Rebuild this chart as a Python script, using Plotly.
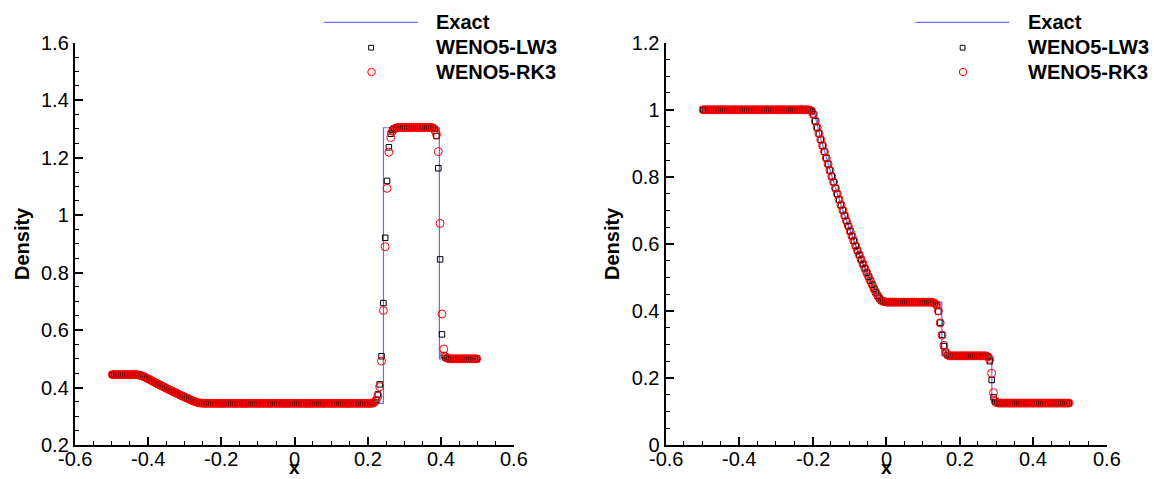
import plotly.graph_objects as go

W, H = 1154, 479

# ---------------- data ----------------
# cell centres (200 cells on [-0.5, 0.5])
x_cells = [
    -0.4975, -0.4925, -0.4875, -0.4825, -0.4775, -0.4725, -0.4675, -0.4625, -0.4575, -0.4525,
    -0.4475, -0.4425, -0.4375, -0.4325, -0.4275, -0.4225, -0.4175, -0.4125, -0.4075, -0.4025,
    -0.3975, -0.3925, -0.3875, -0.3825, -0.3775, -0.3725, -0.3675, -0.3625, -0.3575, -0.3525,
    -0.3475, -0.3425, -0.3375, -0.3325, -0.3275, -0.3225, -0.3175, -0.3125, -0.3075, -0.3025,
    -0.2975, -0.2925, -0.2875, -0.2825, -0.2775, -0.2725, -0.2675, -0.2625, -0.2575, -0.2525,
    -0.2475, -0.2425, -0.2375, -0.2325, -0.2275, -0.2225, -0.2175, -0.2125, -0.2075, -0.2025,
    -0.1975, -0.1925, -0.1875, -0.1825, -0.1775, -0.1725, -0.1675, -0.1625, -0.1575, -0.1525,
    -0.1475, -0.1425, -0.1375, -0.1325, -0.1275, -0.1225, -0.1175, -0.1125, -0.1075, -0.1025,
    -0.0975, -0.0925, -0.0875, -0.0825, -0.0775, -0.0725, -0.0675, -0.0625, -0.0575, -0.0525,
    -0.0475, -0.0425, -0.0375, -0.0325, -0.0275, -0.0225, -0.0175, -0.0125, -0.0075, -0.0025,
    0.0025, 0.0075, 0.0125, 0.0175, 0.0225, 0.0275, 0.0325, 0.0375, 0.0425, 0.0475,
    0.0525, 0.0575, 0.0625, 0.0675, 0.0725, 0.0775, 0.0825, 0.0875, 0.0925, 0.0975,
    0.1025, 0.1075, 0.1125, 0.1175, 0.1225, 0.1275, 0.1325, 0.1375, 0.1425, 0.1475,
    0.1525, 0.1575, 0.1625, 0.1675, 0.1725, 0.1775, 0.1825, 0.1875, 0.1925, 0.1975,
    0.2025, 0.2075, 0.2125, 0.2175, 0.2225, 0.2275, 0.2325, 0.2375, 0.2425, 0.2475,
    0.2525, 0.2575, 0.2625, 0.2675, 0.2725, 0.2775, 0.2825, 0.2875, 0.2925, 0.2975,
    0.3025, 0.3075, 0.3125, 0.3175, 0.3225, 0.3275, 0.3325, 0.3375, 0.3425, 0.3475,
    0.3525, 0.3575, 0.3625, 0.3675, 0.3725, 0.3775, 0.3825, 0.3875, 0.3925, 0.3975,
    0.4025, 0.4075, 0.4125, 0.4175, 0.4225, 0.4275, 0.4325, 0.4375, 0.4425, 0.4475,
    0.4525, 0.4575, 0.4625, 0.4675, 0.4725, 0.4775, 0.4825, 0.4875, 0.4925, 0.4975,
]

# ---- left panel (Lax problem) ----
lax_exact_x = [-0.5, -0.421, -0.38, -0.34, -0.30, -0.2605, 0.2427, 0.2427, 0.3955, 0.3955, 0.5]
lax_exact_rho = [0.445, 0.445, 0.4168, 0.3911, 0.3666, 0.345, 0.345, 1.304, 1.304, 0.5, 0.5]

lax_lw3 = [
    0.445, 0.445, 0.445, 0.445, 0.445, 0.445, 0.445, 0.445, 0.445, 0.445,
    0.445, 0.445, 0.445, 0.4448, 0.4442, 0.4428, 0.4408, 0.4382, 0.4352, 0.4320,
    0.4286, 0.4252, 0.4218, 0.4185, 0.4152, 0.4119, 0.4087, 0.4054, 0.4022, 0.3990,
    0.3958, 0.3927, 0.3895, 0.3864, 0.3833, 0.3803, 0.3772, 0.3742, 0.3711, 0.3681,
    0.3652, 0.3622, 0.3593, 0.3565, 0.3538, 0.3513, 0.3490, 0.3472, 0.3460, 0.3454,
    0.3451, 0.345, 0.345, 0.345, 0.345, 0.345, 0.345, 0.345, 0.345, 0.345,
    0.345, 0.345, 0.345, 0.345, 0.345, 0.345, 0.345, 0.345, 0.345, 0.345,
    0.345, 0.345, 0.345, 0.345, 0.345, 0.345, 0.345, 0.345, 0.345, 0.345,
    0.345, 0.345, 0.345, 0.345, 0.345, 0.345, 0.345, 0.345, 0.345, 0.345,
    0.345, 0.345, 0.345, 0.345, 0.345, 0.345, 0.345, 0.345, 0.345, 0.345,
    0.345, 0.345, 0.345, 0.345, 0.345, 0.345, 0.345, 0.345, 0.345, 0.345,
    0.345, 0.345, 0.345, 0.345, 0.345, 0.345, 0.345, 0.345, 0.345, 0.345,
    0.345, 0.345, 0.345, 0.345, 0.345, 0.345, 0.345, 0.345, 0.345, 0.345,
    0.345, 0.345, 0.345, 0.345, 0.345, 0.345, 0.345, 0.345, 0.345, 0.345,
    0.345, 0.345, 0.3452, 0.349, 0.357, 0.376, 0.411, 0.509, 0.694, 0.921,
    1.119, 1.236, 1.283, 1.297, 1.302, 1.304, 1.305, 1.305, 1.305, 1.305,
    1.305, 1.305, 1.305, 1.305, 1.305, 1.305, 1.305, 1.305, 1.305, 1.305,
    1.305, 1.305, 1.305, 1.305, 1.305, 1.304, 1.300, 1.275, 1.163, 0.846,
    0.585, 0.513, 0.503, 0.501, 0.500, 0.500, 0.500, 0.500, 0.500, 0.500,
    0.500, 0.500, 0.500, 0.500, 0.500, 0.500, 0.500, 0.500, 0.500, 0.500,
]

lax_rk3 = [
    0.445, 0.445, 0.445, 0.445, 0.445, 0.445, 0.445, 0.445, 0.445, 0.445,
    0.445, 0.445, 0.445, 0.4448, 0.4442, 0.4428, 0.4408, 0.4382, 0.4352, 0.4320,
    0.4286, 0.4252, 0.4218, 0.4185, 0.4152, 0.4119, 0.4087, 0.4054, 0.4022, 0.3990,
    0.3958, 0.3927, 0.3895, 0.3864, 0.3833, 0.3803, 0.3772, 0.3742, 0.3711, 0.3681,
    0.3652, 0.3622, 0.3593, 0.3565, 0.3538, 0.3513, 0.3490, 0.3472, 0.3460, 0.3454,
    0.3451, 0.345, 0.345, 0.345, 0.345, 0.345, 0.345, 0.345, 0.345, 0.345,
    0.345, 0.345, 0.345, 0.345, 0.345, 0.345, 0.345, 0.345, 0.345, 0.345,
    0.345, 0.345, 0.345, 0.345, 0.345, 0.345, 0.345, 0.345, 0.345, 0.345,
    0.345, 0.345, 0.345, 0.345, 0.345, 0.345, 0.345, 0.345, 0.345, 0.345,
    0.345, 0.345, 0.345, 0.345, 0.345, 0.345, 0.345, 0.345, 0.345, 0.345,
    0.345, 0.345, 0.345, 0.345, 0.345, 0.345, 0.345, 0.345, 0.345, 0.345,
    0.345, 0.345, 0.345, 0.345, 0.345, 0.345, 0.345, 0.345, 0.345, 0.345,
    0.345, 0.345, 0.345, 0.345, 0.345, 0.345, 0.345, 0.345, 0.345, 0.345,
    0.345, 0.345, 0.345, 0.345, 0.345, 0.345, 0.345, 0.345, 0.345, 0.345,
    0.345, 0.345, 0.3451, 0.348, 0.355, 0.370, 0.403, 0.492, 0.668, 0.890,
    1.093, 1.219, 1.270, 1.292, 1.300, 1.303, 1.305, 1.305, 1.305, 1.305,
    1.305, 1.305, 1.305, 1.305, 1.305, 1.305, 1.305, 1.305, 1.305, 1.305,
    1.305, 1.305, 1.305, 1.305, 1.305, 1.304, 1.296, 1.280, 1.221, 0.971,
    0.656, 0.534, 0.507, 0.502, 0.500, 0.500, 0.500, 0.500, 0.500, 0.500,
    0.500, 0.500, 0.500, 0.500, 0.500, 0.500, 0.500, 0.500, 0.500, 0.500,
]

# ---- right panel (Sod problem) ----
sod_exact_x = [-0.5, -0.197, -0.1775, -0.1575, -0.1375, -0.1175, -0.0975, -0.0775,
               -0.0575, -0.0375, -0.0175, -0.0146, 0.152, 0.152, 0.288, 0.288, 0.5]
sod_exact_rho = [1.0, 1.0, 0.914, 0.838, 0.766, 0.700, 0.638, 0.580,
                 0.527, 0.478, 0.432, 0.426, 0.426, 0.2656, 0.2656, 0.125, 0.125]

sod_lw3 = [
    1.0, 1.0, 1.0, 1.0, 1.0, 1.0, 1.0, 1.0, 1.0, 1.0,
    1.0, 1.0, 1.0, 1.0, 1.0, 1.0, 1.0, 1.0, 1.0, 1.0,
    1.0, 1.0, 1.0, 1.0, 1.0, 1.0, 1.0, 1.0, 1.0, 1.0,
    1.0, 1.0, 1.0, 1.0, 1.0, 1.0, 1.0, 1.0, 1.0, 1.0,
    1.0, 1.0, 1.0, 1.0, 1.0, 1.0, 1.0, 1.0, 1.0, 1.0,
    1.0, 1.0, 1.0, 1.0, 1.0, 1.0, 1.0, 1.0, 0.999, 0.996,
    0.986, 0.966, 0.947, 0.929, 0.911, 0.893, 0.875, 0.856, 0.838, 0.819,
    0.801, 0.784, 0.766, 0.749, 0.732, 0.716, 0.700, 0.684, 0.668, 0.653,
    0.638, 0.623, 0.609, 0.594, 0.580, 0.567, 0.553, 0.540, 0.527, 0.514,
    0.502, 0.490, 0.478, 0.466, 0.455, 0.445, 0.437, 0.431, 0.428, 0.427,
    0.426, 0.426, 0.426, 0.426, 0.426, 0.426, 0.426, 0.426, 0.426, 0.426,
    0.426, 0.426, 0.426, 0.426, 0.426, 0.426, 0.426, 0.426, 0.426, 0.426,
    0.426, 0.426, 0.426, 0.426, 0.426, 0.425, 0.423, 0.417, 0.398, 0.365,
    0.328, 0.295, 0.275, 0.268, 0.266, 0.266, 0.266, 0.266, 0.266, 0.266,
    0.266, 0.266, 0.266, 0.266, 0.266, 0.266, 0.266, 0.266, 0.266, 0.266,
    0.266, 0.266, 0.266, 0.266, 0.266, 0.263, 0.250, 0.194, 0.142, 0.128,
    0.126, 0.125, 0.125, 0.125, 0.125, 0.125, 0.125, 0.125, 0.125, 0.125,
    0.125, 0.125, 0.125, 0.125, 0.125, 0.125, 0.125, 0.125, 0.125, 0.125,
    0.125, 0.125, 0.125, 0.125, 0.125, 0.125, 0.125, 0.125, 0.125, 0.125,
    0.125, 0.125, 0.125, 0.125, 0.125, 0.125, 0.125, 0.125, 0.125, 0.125,
]

sod_rk3 = [
    1.0, 1.0, 1.0, 1.0, 1.0, 1.0, 1.0, 1.0, 1.0, 1.0,
    1.0, 1.0, 1.0, 1.0, 1.0, 1.0, 1.0, 1.0, 1.0, 1.0,
    1.0, 1.0, 1.0, 1.0, 1.0, 1.0, 1.0, 1.0, 1.0, 1.0,
    1.0, 1.0, 1.0, 1.0, 1.0, 1.0, 1.0, 1.0, 1.0, 1.0,
    1.0, 1.0, 1.0, 1.0, 1.0, 1.0, 1.0, 1.0, 1.0, 1.0,
    1.0, 1.0, 1.0, 1.0, 1.0, 1.0, 1.0, 1.0, 0.999, 0.996,
    0.986, 0.966, 0.947, 0.929, 0.911, 0.893, 0.875, 0.856, 0.838, 0.819,
    0.801, 0.784, 0.766, 0.749, 0.732, 0.716, 0.700, 0.684, 0.668, 0.653,
    0.638, 0.623, 0.609, 0.594, 0.580, 0.567, 0.553, 0.540, 0.527, 0.514,
    0.502, 0.490, 0.478, 0.466, 0.455, 0.445, 0.437, 0.431, 0.428, 0.427,
    0.426, 0.426, 0.426, 0.426, 0.426, 0.426, 0.426, 0.426, 0.426, 0.426,
    0.426, 0.426, 0.426, 0.426, 0.426, 0.426, 0.426, 0.426, 0.426, 0.426,
    0.426, 0.426, 0.426, 0.426, 0.426, 0.425, 0.423, 0.418, 0.400, 0.364,
    0.328, 0.297, 0.277, 0.269, 0.266, 0.266, 0.266, 0.266, 0.266, 0.266,
    0.266, 0.266, 0.266, 0.266, 0.266, 0.266, 0.266, 0.266, 0.266, 0.266,
    0.266, 0.266, 0.266, 0.266, 0.266, 0.263, 0.256, 0.214, 0.156, 0.131,
    0.126, 0.125, 0.125, 0.125, 0.125, 0.125, 0.125, 0.125, 0.125, 0.125,
    0.125, 0.125, 0.125, 0.125, 0.125, 0.125, 0.125, 0.125, 0.125, 0.125,
    0.125, 0.125, 0.125, 0.125, 0.125, 0.125, 0.125, 0.125, 0.125, 0.125,
    0.125, 0.125, 0.125, 0.125, 0.125, 0.125, 0.125, 0.125, 0.125, 0.125,
]

series_names = ["Exact", "WENO5-LW3", "WENO5-RK3"]
x_ticks = [-0.6, -0.4, -0.2, 0.0, 0.2, 0.4, 0.6]
x_ticktext = ["-0.6", "-0.4", "-0.2", "0", "0.2", "0.4", "0.6"]
y1_ticks = [0.2, 0.4, 0.6, 0.8, 1.0, 1.2, 1.4, 1.6]
y1_ticktext = ["0.2", "0.4", "0.6", "0.8", "1", "1.2", "1.4", "1.6"]
y2_ticks = [0.0, 0.2, 0.4, 0.6, 0.8, 1.0, 1.2]
y2_ticktext = ["0", "0.2", "0.4", "0.6", "0.8", "1", "1.2"]

# ---------------- style ----------------
FONT = "Liberation Sans, Arial, sans-serif"
BLUE = "#6b6bff"
RED = "#ff0000"


def px(x):
    return x / W


def py(y):
    return 1 - y / H


fig = go.Figure()

panels = [
    ("x", "y", lax_exact_x, lax_exact_rho, lax_lw3, lax_rk3),
    ("x2", "y2", sod_exact_x, sod_exact_rho, sod_lw3, sod_rk3),
]
for xa, ya, ex, ey, lw3, rk3 in panels:
    fig.add_trace(go.Scatter(x=ex, y=ey, mode="lines", name=series_names[0],
                             line=dict(color=BLUE, width=1.2), xaxis=xa, yaxis=ya,
                             showlegend=False, hoverinfo="skip"))
    fig.add_trace(go.Scatter(x=x_cells, y=lw3, mode="markers", name=series_names[1],
                             marker=dict(symbol="square-open", size=5.5, color="black",
                                         line=dict(width=1, color="black")),
                             xaxis=xa, yaxis=ya, showlegend=False, hoverinfo="skip"))
    fig.add_trace(go.Scatter(x=x_cells, y=rk3, mode="markers", name=series_names[2],
                             marker=dict(symbol="circle-open", size=8, color=RED,
                                         line=dict(width=1, color=RED)),
                             xaxis=xa, yaxis=ya, showlegend=False, hoverinfo="skip"))

minor = dict(ticks="inside", ticklen=4, tickwidth=1, tickcolor="black",
             tickmode="linear", tick0=0, dtick=0.05, showgrid=False)
common = dict(showline=True, linecolor="black", linewidth=2, ticks="inside",
              ticklen=8, tickwidth=2, tickcolor="black", showgrid=False,
              zeroline=False, mirror=False, automargin=False,
              tickfont=dict(family=FONT, size=20, color="black"),
              minor=minor)

ydom = [py(445), py(42.7)]
fig.update_layout(
    template="none",
    autosize=False,
    width=W, height=H, margin=dict(l=0, r=0, t=0, b=0, pad=0),
    paper_bgcolor="white", plot_bgcolor="white", showlegend=False,
    hovermode=False,
    xaxis=dict(domain=[px(74.8), px(514.3)], range=[-0.6, 0.6], anchor="y",
               tickmode="array", tickvals=x_ticks, showticklabels=False, **common),
    yaxis=dict(domain=ydom, range=[0.2, 1.6], anchor="x",
               tickmode="array", tickvals=y1_ticks, ticktext=y1_ticktext, **common),
    xaxis2=dict(domain=[px(665.5), px(1106.5)], range=[-0.6, 0.6], anchor="y2",
                tickmode="array", tickvals=x_ticks, showticklabels=False, **common),
    yaxis2=dict(domain=ydom, range=[0.0, 1.2], anchor="x2",
                tickmode="array", tickvals=y2_ticks, ticktext=y2_ticktext, **common),
)

annotations = []
shapes = []
for xref, dx, xlab_c, ylab_c in [("x", 0.0, 294.5, 22), ("x2", 591.5, 886.0, 612)]:
    # x tick labels, positioned through the x axis scale
    for tv, tt in zip(x_ticks, x_ticktext):
        annotations.append(dict(x=tv, xref=xref, y=py(458.5), yref="paper", text=tt,
                                showarrow=False, xanchor="center", yanchor="middle",
                                font=dict(family=FONT, size=20, color="black")))
    # axis titles
    annotations.append(dict(x=px(xlab_c), y=py(479), xref="paper", yref="paper",
                            text="<b>x</b>", showarrow=False, xanchor="center",
                            yanchor="bottom", borderpad=0,
                            font=dict(family=FONT, size=19, color="black")))
    annotations.append(dict(x=px(ylab_c), y=py(244), xref="paper", yref="paper",
                            text="<b>Density</b>", showarrow=False, textangle=-90,
                            xanchor="center", yanchor="middle",
                            font=dict(family=FONT, size=20, color="black")))
    # legend
    for k, yy in enumerate([22.3, 47.5, 72.0]):
        annotations.append(dict(x=px(434.3 + dx), y=py(yy), xref="paper", yref="paper",
                                text="<b>%s</b>" % series_names[k], showarrow=False,
                                xanchor="left", yanchor="middle",
                                font=dict(family=FONT, size=20, color="black")))
    shapes.append(dict(type="line", xref="paper", yref="paper",
                       x0=px(324 + dx), x1=px(417.7 + dx), y0=py(22.3), y1=py(22.3),
                       line=dict(color=BLUE, width=1.2)))
    shapes.append(dict(type="rect", xref="paper", yref="paper",
                       x0=px(368.7 + dx), x1=px(373.5 + dx), y0=py(45.3), y1=py(50.1),
                       line=dict(color="black", width=1)))
    shapes.append(dict(type="circle", xref="paper", yref="paper",
                       x0=px(367.8 + dx), x1=px(375.2 + dx), y0=py(68.3), y1=py(75.7),
                       line=dict(color=RED, width=1)))

fig.update_layout(annotations=annotations, shapes=shapes)
fig.write_html("out.html",
               config={"displayModeBar": False, "staticPlot": True},
               post_script="document.body.style.margin='0px';"
                           "document.body.style.overflow='hidden';")
